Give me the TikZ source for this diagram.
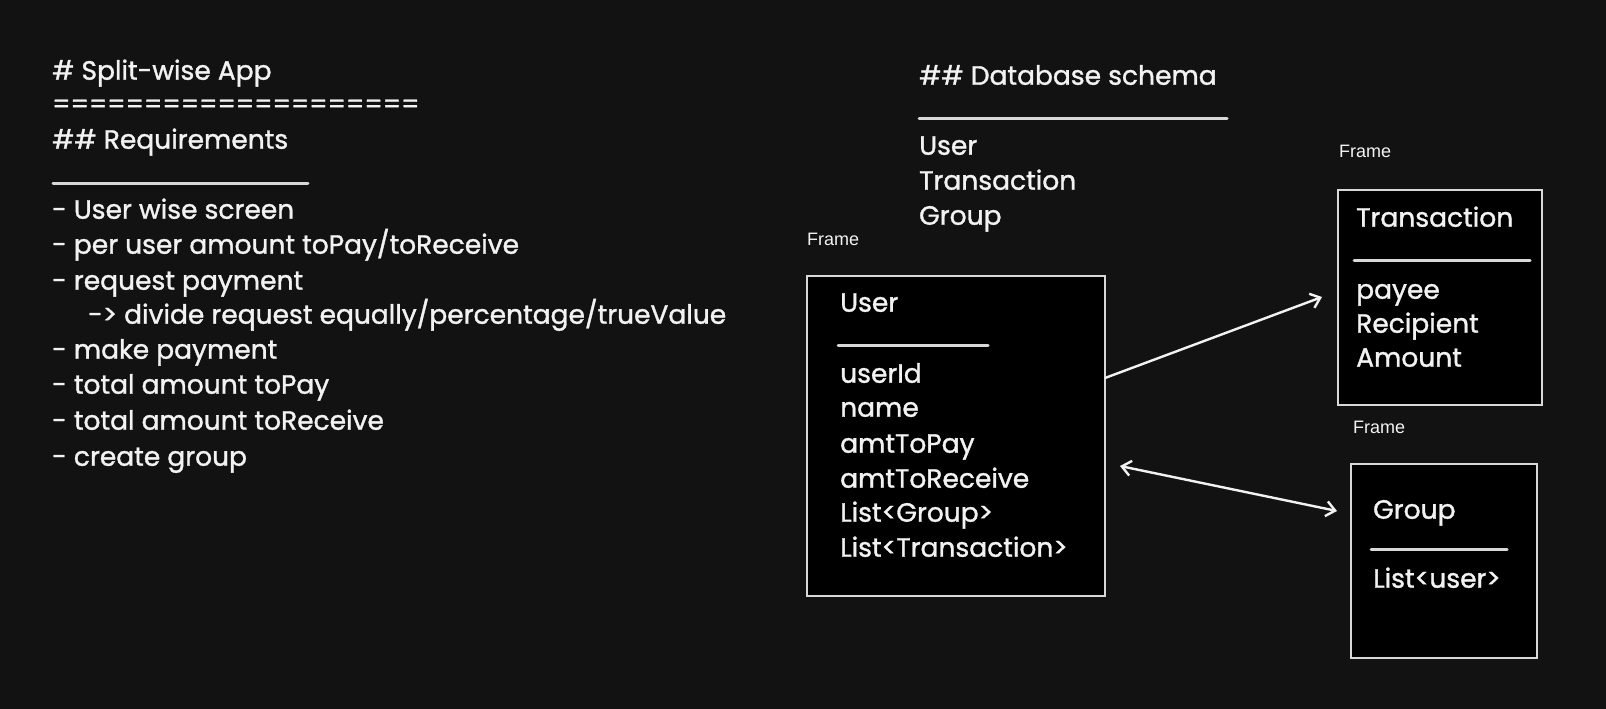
\documentclass[tikz,border=0pt]{standalone}
\usepackage{fontspec}
\setmainfont{Poppins}
\newfontfamily\hand{Poppins}[FakeBold=1.3]
\newfontfamily\framefont{Liberation Sans}
\usetikzlibrary{arrows.meta}
\definecolor{bg}{HTML}{121212}
\definecolor{ink}{HTML}{F2F2F2}
\definecolor{edge}{HTML}{D8D8D8}
\tikzset{
  txt/.style={anchor=mid west, inner sep=0pt, text=ink, font=\hand\fontsize{26.5}{30}\selectfont},
  flbl/.style={anchor=mid west, inner sep=0pt, text=ink, font=\framefont\fontsize{18}{21}\selectfont},
  frm/.style={draw=edge, fill=black, line width=1.2pt},
  uline/.style={draw=edge, line width=3pt, line cap=round},
  conn/.style={draw=ink, line width=2.4pt, -{Straight Barb[length=9pt,width=15pt,line width=2.4pt]}},
  conn2/.style={draw=ink, line width=2.4pt, {Straight Barb[length=9pt,width=15pt,line width=2.4pt]}-{Straight Barb[length=9pt,width=15pt,line width=2.4pt]}}
}
\begin{document}
\begin{tikzpicture}[x=1pt,y=-1pt]
\fill[bg] (0,0) rectangle (1606,709);
\useasboundingbox (0,0) rectangle (1606,709);
% left column
\node[txt] (t1) at (52,77) {\# Split-wise App};
\node[txt, font=\hand\fontsize{25.4}{30}\selectfont] (t2) at (52,110) {====================};
\node[txt] (t3) at (52,146) {\#\# Requirements};
\coordinate (r1) at (53,183);
\coordinate (r2) at (308,183);
\draw[uline] (r1) -- (r2);
\node[txt] (l1) at (52,216) {- User wise screen};
\node[txt] (l2) at (52,251) {- per user amount toPay/toReceive};
\node[txt] (l3) at (52,287) {- request payment};
\node[txt] (l4) at (88,321) {-> divide request equally/percentage/trueValue};
\node[txt] (l5) at (52,356) {- make payment};
\node[txt] (l6) at (52,391) {- total amount toPay};
\node[txt] (l7) at (52,427) {- total amount toReceive};
\node[txt] (l8) at (52,463) {- create group};
% database schema
\node[txt] (d0) at (919,82) {\#\# Database schema};
\coordinate (d1) at (919,118);
\coordinate (d2) at (1227,118);
\draw[uline] (d1) -- (d2);
\node[txt] (d3) at (919,152) {User};
\node[txt] (d4) at (919,187) {Transaction};
\node[txt] (d5) at (919,222) {Group};
% User frame
\node[flbl] (uf) at (807,243) {Frame};
\draw[frm] (807,276) rectangle (1105,596);
\coordinate (userE) at (1105,378);
\node[txt] (u0) at (840,309) {User};
\coordinate (u1) at (838,345);
\coordinate (u2) at (988,345);
\draw[uline] (u1) -- (u2);
\node[txt] (u3) at (840,380) {userId};
\node[txt] (u4) at (840,414) {name};
\node[txt] (u5) at (840,450) {amtToPay};
\node[txt] (u6) at (840,485) {amtToReceive};
\node[txt] (u7) at (840,519) {List<Group>};
\node[txt] (u8) at (840,554) {List<Transaction>};
% Transaction frame
\node[flbl] (tf) at (1339,155) {Frame};
\draw[frm] (1338,190) rectangle (1542,405);
\node[txt] (x0) at (1356,224) {Transaction};
\coordinate (x1) at (1354,260);
\coordinate (x2) at (1530,260);
\draw[uline] (x1) -- (x2);
\node[txt] (x3) at (1356,296) {payee};
\node[txt] (x4) at (1356,330) {Recipient};
\node[txt] (x5) at (1356,364) {Amount};
\coordinate (transW) at (1322,297);
% Group frame
\node[flbl] (gf) at (1353,431) {Frame};
\draw[frm] (1351,464) rectangle (1537,658);
\node[txt] (g0) at (1373,516) {Group};
\coordinate (g1) at (1371,549);
\coordinate (g2) at (1507,549);
\draw[uline] (g1) -- (g2);
\node[txt] (g3) at (1373,585) {List<user>};
\coordinate (groupW) at (1337,511);
\coordinate (userE2) at (1120,466);
% connectors
\draw[conn] (userE) -- (transW);
\draw[conn2] (userE2) -- (groupW);
\end{tikzpicture}
\end{document}
